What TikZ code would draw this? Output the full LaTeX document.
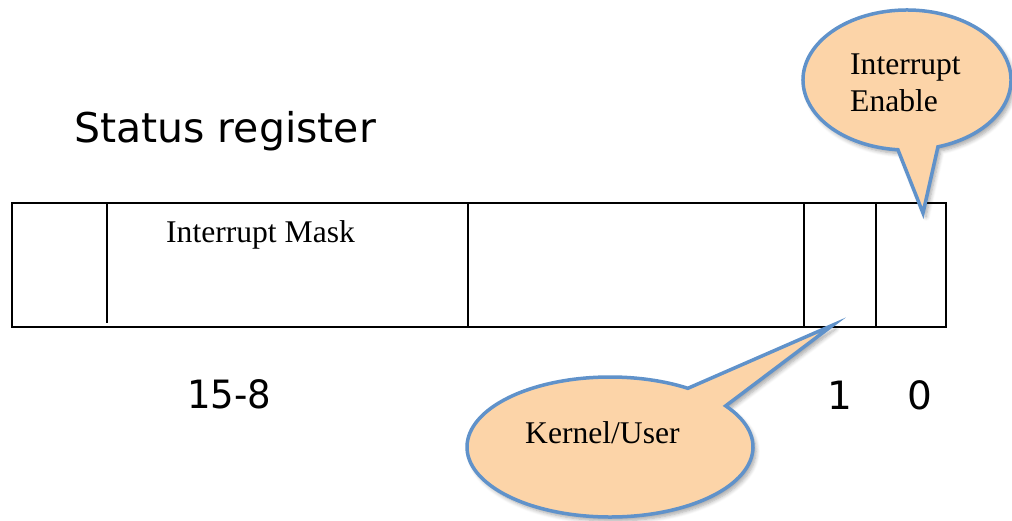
\documentclass[tikz,border=0pt]{standalone}
\usepackage{fontspec}
\setmainfont{Liberation Serif}
\newfontfamily\comicfont{DejaVu Sans}
\usetikzlibrary{shadows.blur}
\definecolor{peach}{RGB}{252,212,168}
\definecolor{callblue}{RGB}{96,146,202}
\tikzset{
  reg/.style={line width=2.4pt, draw=black},
  callout/.style={fill=peach, draw=callblue, line width=3.5pt, line join=miter,
    blur shadow={shadow xshift=3pt, shadow yshift=-4pt, shadow blur steps=6, shadow blur radius=4pt, shadow opacity=35}},
  serif/.style={font=\fontsize{31.6}{37}\selectfont, inner sep=0pt, text=black},
  comic/.style={font=\comicfont\fontsize{41}{46}\selectfont, inner sep=0pt, text=black},
  digits/.style={font=\comicfont\fontsize{39}{44}\selectfont, inner sep=0pt, text=black}
}
\begin{document}
\begin{tikzpicture}[x=1pt, y=-1pt]
\useasboundingbox (0,0) rectangle (1012,521);
% title
\node[comic, anchor=base west] (title) at (74,143) {Status register};
% register
\draw[reg] (12,203) rectangle (946,327);
\draw[reg] (107,203) -- (107,323);
\draw[reg] (468,203) -- (468,327);
\draw[reg] (804,203) -- (804,327);
\draw[reg] (876,203) -- (876,327);
\node[serif, anchor=base west] (mask) at (166,243) {Interrupt Mask};
% bit numbers
\node[digits, anchor=base west, xscale=0.95] (b158) at (187,408) {15-8};
\node[digits, anchor=base] (b1) at (840,409) {1};
\node[digits, anchor=base] (b0) at (920,409) {0};
% callout: Interrupt Enable
\path[callout] (907,80) ++(72.7:104 and 70) arc[start angle=72.7, end angle=-265, x radius=104, y radius=70] -- (923,213) -- cycle;
\node[serif, anchor=base west, align=left] (ie) at (850,112) {Interrupt\\Enable};
% callout: Kernel/User
\path[callout] (610,447) ++(-36:143 and 70) arc[start angle=-36, end angle=303, x radius=143, y radius=70] -- (833,325) -- cycle;
\node[serif, anchor=base west] (ku) at (525,443) {Kernel/User};
\end{tikzpicture}
\end{document}
